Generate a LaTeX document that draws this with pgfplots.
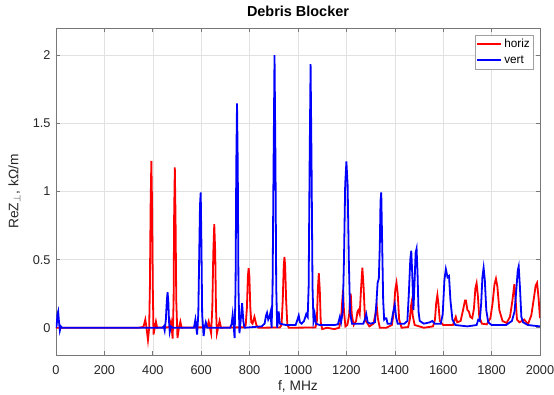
\documentclass[border=0pt]{standalone}
\usepackage{fontspec}
\setmainfont{Liberation Sans}
\usepackage{pgfplots}
\pgfplotsset{compat=1.18}
\definecolor{axgray}{RGB}{120,120,120}
\definecolor{txtgray}{RGB}{38,38,38}
\definecolor{gridgray}{RGB}{225,225,225}
\definecolor{legframe}{RGB}{160,160,160}
\begin{document}
\begin{tikzpicture}
\path[use as bounding box] (-56bp,-40bp) rectangle (498bp,355bp);
\begin{axis}[
  scale only axis,
  width=484bp, height=327bp,
  xmin=0, xmax=2000, ymin=-0.2, ymax=2.2,
  xtick={0,200,...,2000},
  ytick={0,0.5,1,1.5,2},
  grid=major,
  major grid style={draw=gridgray, line width=0.5bp},
  axis line style={draw=axgray, line width=0.6bp},
  tick style={draw=axgray, line width=0.6bp},
  tick align=inside,
  major tick length=4bp,
  /pgf/number format/assume math mode=true,
  /pgf/number format/1000 sep={},
  tick label style={font=\fontsize{12.8}{14}\selectfont, text=txtgray},
  xticklabel style={anchor=center, yshift=-15bp},
  yticklabel style={anchor=east, xshift=-2bp},
  title={\textbf{Debris Blocker}},
  title style={at={(axis description cs:0.5,1.017)}, anchor=base, font=\fontsize{14.5}{16}\selectfont, text=black},
  xlabel={f, MHz},
  ylabel={ReZ$_\perp$, kΩ/m},
  xlabel style={at={(axis description cs:0.5,-0.110)}, anchor=base, font=\fontsize{13.8}{16}\selectfont, text=txtgray},
  ylabel style={at={(axis description cs:-0.0779,0.5)}, anchor=base, font=\fontsize{13.8}{16}\selectfont, text=txtgray},
  legend style={at={(axis description cs:0.9855,0.9786)}, anchor=north east, draw=legframe, fill=white, font=\fontsize{11.8}{13}\selectfont, inner xsep=1bp, inner ysep=2bp, row sep=2.5bp},
  legend cell align=left,
  legend image code/.code={\draw[mark repeat=2,mark phase=2,#1] plot coordinates {(0bp,0bp) (12bp,0bp) (24bp,0bp)};},
]
\addplot[red, line width=1.8bp] coordinates {
(0,0) (340,0) (355,0.004) (362,0.01) (369,0.06) (374,0.0) (380,-0.09) (385,0.0)
(388,0.3) (391,0.9) (394,1.225) (397,0.9) (400,0.3) (403,-0.05) (408,0.0)
(413,0.045) (418,0.0) (425,0.002) (465,0.003) (470,0.01) (475,0.045) (478,0.0)
(482,-0.08) (486,0.2) (488,0.8) (491,1.177) (494,0.8) (497,0.2) (502,-0.075)
(508,0.0) (514,0.045) (519,0.0) (530,0.002) (620,0.003) (626,0.01) (631,0.045)
(636,0.0) (641,-0.04) (646,0.15) (650,0.55) (654,0.76) (658,0.55) (661,0.15)
(665,-0.04) (670,0.0) (676,0.05) (682,0.0) (700,0.002) (775,0.003) (784,0.02)
(789,0.15) (793,0.38) (796,0.437) (799,0.38) (803,0.15) (807,0.04) (812,0.03)
(820,0.08) (828,0.02) (836,0.0) (925,0.002) (932,0.02) (937,0.2) (941,0.45)
(944,0.52) (947,0.45) (951,0.2) (956,0.02) (962,0.0) (1072,0.002) (1078,0.05)
(1082,0.28) (1086,0.40) (1090,0.28) (1094,0.04) (1100,-0.01) (1120,0.0)
(1150,-0.01) (1170,0.0) (1178,0.06) (1183,0.2) (1186,0.28) (1190,0.12) (1196,0.01)
(1204,0.02) (1211,0.09) (1215,0.2) (1218,0.25) (1222,0.1) (1230,0.02) (1240,0.05)
(1246,0.12) (1250,0.13) (1255,0.1) (1261,0.3) (1266,0.44) (1271,0.3) (1277,0.06)
(1284,0.04) (1295,0.01) (1312,0.03) (1320,0.1) (1325,0.17) (1330,0.07) (1338,0.0)
(1365,0.0) (1388,0.02) (1396,0.12) (1402,0.28) (1407,0.33) (1412,0.25) (1418,0.06)
(1428,0.0) (1455,0.005) (1462,0.06) (1467,0.16) (1470,0.19) (1474,0.09) (1482,0.02)
(1520,0.0) (1558,0.01) (1566,0.06) (1571,0.18) (1576,0.24) (1580,0.18) (1586,0.05)
(1600,0.02) (1640,0.02) (1648,0.06) (1652,0.08) (1658,0.04) (1672,0.05) (1682,0.13)
(1690,0.2) (1694,0.2) (1700,0.13) (1706,0.12) (1712,0.08) (1720,0.07) (1727,0.14)
(1733,0.29) (1738,0.327) (1743,0.24) (1749,0.08) (1760,0.03) (1780,0.025) (1795,0.07)
(1804,0.18) (1812,0.32) (1818,0.36) (1824,0.3) (1832,0.13) (1845,0.05) (1862,0.035)
(1876,0.08) (1886,0.2) (1894,0.32) (1899,0.21) (1905,0.06) (1915,0.04) (1935,0.06)
(1950,0.025) (1964,0.09) (1975,0.22) (1982,0.31) (1988,0.33) (1994,0.22) (2000,0.07)
};
\addlegendentry{horiz}
\addplot[blue, line width=1.8bp] coordinates {
(0,0) (3,0.02) (6,0.1) (9,0.12) (12,0.05) (16,-0.02) (20,0.01) (25,0.0)
(440,0.0) (445,0.01) (449,-0.02) (454,0.06) (458,0.2) (461,0.26) (464,0.2)
(467,0.05) (470,-0.03) (475,0.01) (482,0.0) (570,0.0) (576,0.06) (583,-0.05)
(588,0.1) (592,0.55) (595,0.9) (598,0.994) (601,0.6) (604,0.1) (610,-0.06)
(614,0.0) (619,0.04) (625,0.0) (720,0.0) (726,0.03) (730,0.095) (734,0.02)
(738,-0.076) (742,0.3) (745,1.2) (748,1.646) (751,1.2) (754,0.3) (758,-0.04)
(763,0.05) (769,0.18) (774,0.05) (779,0.0) (850,0.01) (862,0.03) (868,0.09)
(872,0.11) (877,0.06) (882,0.08) (886,0.11) (891,0.0) (895,0.3) (899,1.2)
(903,2.0) (907,1.2) (910,0.3) (914,0.0) (920,0.12) (925,0.03) (950,0.02)
(990,0.02) (998,0.06) (1003,0.09) (1008,0.04) (1015,0.03) (1025,0.05) (1034,0.10)
(1040,0.08) (1044,0.3) (1048,1.2) (1052,1.934) (1056,1.2) (1060,0.3) (1064,0.05)
(1069,0.10) (1074,0.03) (1090,0.02) (1150,0.02) (1165,0.025) (1173,0.08)
(1178,0.04) (1185,0.12) (1190,0.5) (1195,1.05) (1200,1.22) (1205,1.05) (1210,0.5)
(1215,0.12) (1218,0.08) (1223,0.03) (1240,0.03) (1270,0.03) (1278,0.07) (1282,0.10)
(1288,0.04) (1300,0.03) (1318,0.04) (1324,0.18) (1329,0.33) (1334,0.36) (1338,0.6)
(1341,0.93) (1344,0.994) (1348,0.6) (1352,0.2) (1356,0.06) (1361,0.07) (1365,0.07)
(1370,0.03) (1385,0.03) (1394,0.12) (1400,0.17) (1405,0.08) (1412,0.03) (1440,0.03)
(1452,0.05) (1458,0.25) (1464,0.5) (1468,0.566) (1472,0.4) (1477,0.13) (1482,0.35)
(1486,0.55) (1490,0.58) (1494,0.4) (1498,0.12) (1503,0.05) (1520,0.03) (1545,0.04)
(1555,0.05) (1565,0.03) (1590,0.03) (1598,0.1) (1605,0.35) (1611,0.43) (1618,0.37)
(1624,0.38) (1630,0.2) (1638,0.06) (1650,0.02) (1700,0.01) (1738,0.02) (1745,0.06)
(1751,0.05) (1757,0.18) (1762,0.37) (1767,0.44) (1772,0.35) (1778,0.13) (1786,0.04)
(1800,0.02) (1860,0.02) (1884,0.05) (1895,0.12) (1903,0.3) (1908,0.42) (1912,0.45)
(1917,0.3) (1923,0.08) (1930,0.04) (1950,0.02) (2000,0.01)
};
\addlegendentry{vert}
\end{axis}
\end{tikzpicture}
\end{document}
